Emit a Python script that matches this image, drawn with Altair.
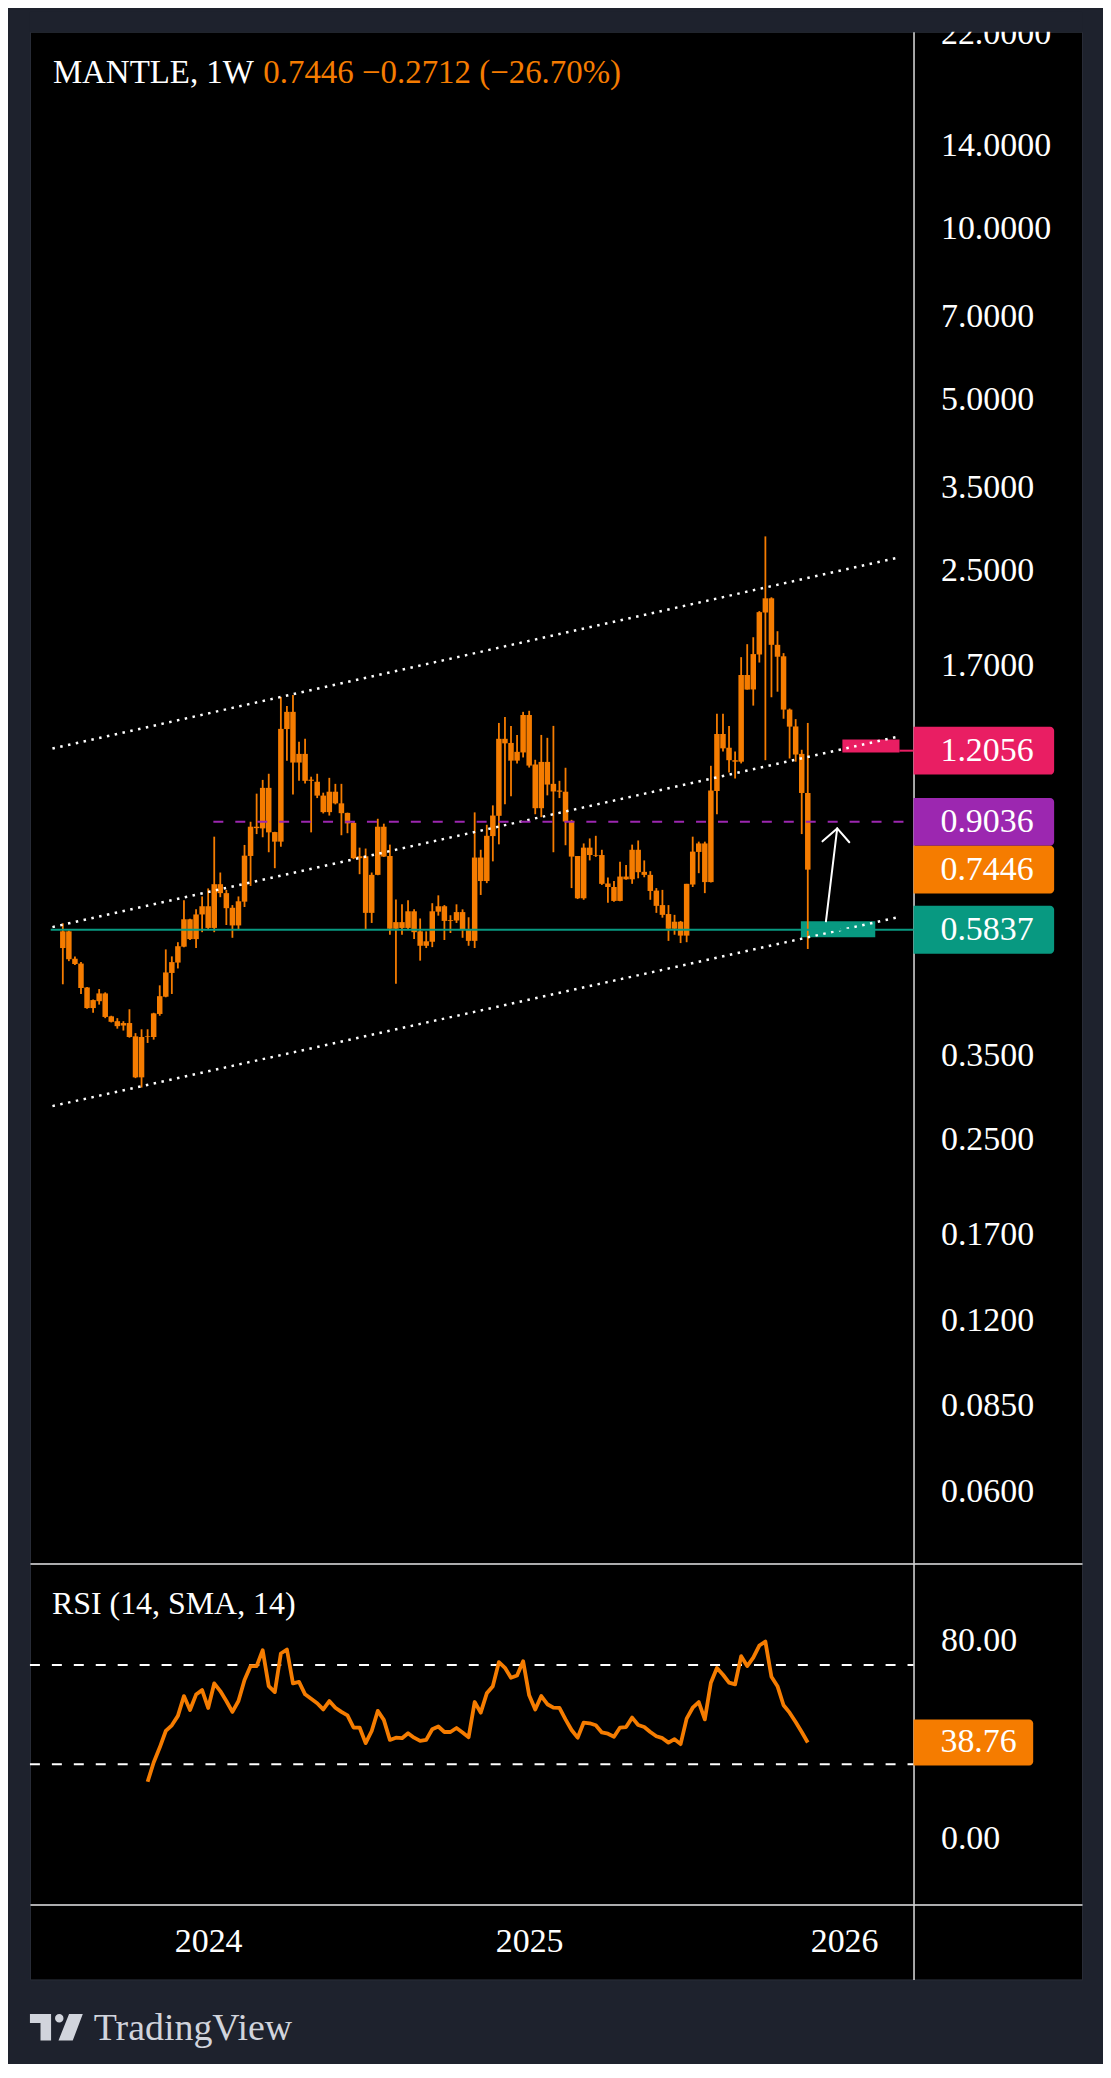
import altair as alt
import pandas as pd

# ------------------------------------------------------------------ data
first_week = "2023-07-17"   # weekly candles, MANTLE 1W

opens = [0.542, 0.580, 0.519, 0.509, 0.462, 0.425, 0.437, 0.451, 0.411, 0.403,
         0.396, 0.400, 0.379, 0.321, 0.378, 0.378, 0.415, 0.445, 0.490, 0.511,
         0.545, 0.609, 0.562, 0.621, 0.642, 0.588, 0.702, 0.677, 0.638, 0.594,
         0.654, 0.787, 0.886, 0.880, 1.037, 0.867, 0.834, 1.316, 1.411, 1.149,
         1.190, 1.067, 1.063, 1.005, 0.940, 1.021, 0.974, 0.937, 0.900, 0.780,
         0.786, 0.625, 0.729, 0.886, 0.787, 0.586, 0.602, 0.588, 0.629, 0.580,
         0.547, 0.556, 0.628, 0.642, 0.605, 0.606, 0.627, 0.584, 0.558, 0.782,
         0.711, 0.853, 0.926, 1.265, 1.244, 1.158, 1.197, 1.393, 1.140, 0.955,
         1.152, 1.054, 1.021, 1.021, 0.907, 0.787, 0.663, 0.814, 0.790, 0.790,
         0.704, 0.694, 0.656, 0.724, 0.716, 0.807, 0.738, 0.729, 0.684, 0.645,
         0.622, 0.586, 0.603, 0.570, 0.701, 0.800, 0.828, 0.708, 1.024, 1.290,
         1.220, 1.160, 1.153, 1.638, 1.545, 1.780, 2.110, 2.235, 1.851, 1.767,
         1.424, 1.330, 1.190, 1.0158]
highs = [0.599, 0.582, 0.524, 0.512, 0.463, 0.440, 0.459, 0.453, 0.412, 0.408,
         0.403, 0.423, 0.384, 0.390, 0.390, 0.417, 0.466, 0.539, 0.524, 0.555,
         0.658, 0.610, 0.634, 0.668, 0.690, 0.851, 0.736, 0.686, 0.645, 0.668,
         0.823, 0.904, 1.013, 1.071, 1.098, 0.868, 1.499, 1.445, 1.511, 1.250,
         1.265, 1.085, 1.098, 1.017, 1.080, 1.054, 1.054, 0.938, 0.904, 0.814,
         0.811, 0.736, 0.915, 0.897, 0.824, 0.660, 0.647, 0.658, 0.634, 0.611,
         0.580, 0.650, 0.671, 0.645, 0.619, 0.647, 0.634, 0.614, 0.939, 0.807,
         0.893, 0.966, 1.349, 1.382, 1.333, 1.285, 1.411, 1.417, 1.162, 1.285,
         1.270, 1.333, 1.067, 1.125, 0.911, 0.787, 0.828, 0.845, 0.854, 0.807,
         0.721, 0.711, 0.769, 0.759, 0.824, 0.838, 0.773, 0.740, 0.691, 0.686,
         0.645, 0.620, 0.605, 0.703, 0.851, 0.834, 0.834, 1.134, 1.400, 1.400,
         1.333, 1.202, 1.761, 1.856, 1.909, 2.122, 2.872, 2.244, 1.956, 1.790,
         1.430, 1.370, 1.210, 1.349]
lows = [0.468, 0.514, 0.506, 0.450, 0.424, 0.417, 0.431, 0.408, 0.401, 0.391,
        0.388, 0.377, 0.320, 0.308, 0.369, 0.374, 0.412, 0.444, 0.450, 0.499,
        0.544, 0.560, 0.542, 0.578, 0.583, 0.578, 0.666, 0.595, 0.565, 0.583,
        0.640, 0.697, 0.860, 0.849, 0.799, 0.749, 0.817, 1.157, 1.010, 1.067,
        1.056, 0.866, 0.995, 0.935, 0.927, 0.970, 0.856, 0.863, 0.777, 0.731,
        0.583, 0.600, 0.728, 0.784, 0.572, 0.469, 0.572, 0.583, 0.562, 0.515,
        0.542, 0.544, 0.618, 0.560, 0.576, 0.600, 0.565, 0.547, 0.542, 0.672,
        0.705, 0.770, 0.825, 0.970, 1.002, 1.145, 1.173, 1.126, 0.932, 0.921,
        1.006, 0.799, 0.995, 0.822, 0.691, 0.661, 0.659, 0.773, 0.784, 0.700,
        0.651, 0.654, 0.655, 0.715, 0.703, 0.719, 0.722, 0.659, 0.625, 0.613,
        0.558, 0.572, 0.553, 0.555, 0.694, 0.734, 0.677, 0.707, 0.932, 1.202,
        1.104, 1.077, 1.145, 1.544, 1.447, 1.723, 1.160, 1.497, 1.531, 1.372,
        1.168, 1.153, 0.860, 0.540]
closes = [0.580, 0.518, 0.508, 0.461, 0.425, 0.439, 0.451, 0.410, 0.402, 0.395,
          0.400, 0.378, 0.321, 0.378, 0.379, 0.416, 0.446, 0.491, 0.512, 0.546,
          0.609, 0.562, 0.621, 0.642, 0.588, 0.702, 0.677, 0.637, 0.594, 0.655,
          0.788, 0.886, 0.881, 1.037, 0.866, 0.834, 1.317, 1.411, 1.149, 1.190,
          1.067, 1.072, 1.005, 0.940, 1.021, 0.974, 0.936, 0.898, 0.780, 0.786,
          0.625, 0.729, 0.886, 0.785, 0.586, 0.602, 0.588, 0.629, 0.578, 0.547,
          0.557, 0.629, 0.642, 0.605, 0.607, 0.627, 0.583, 0.558, 0.782, 0.711,
          0.854, 0.927, 1.265, 1.242, 1.158, 1.200, 1.393, 1.135, 0.955, 1.152,
          1.051, 1.022, 1.026, 0.905, 0.785, 0.663, 0.814, 0.790, 0.788, 0.703,
          0.694, 0.656, 0.724, 0.716, 0.807, 0.737, 0.729, 0.683, 0.643, 0.620,
          0.586, 0.603, 0.570, 0.703, 0.801, 0.828, 0.708, 1.026, 1.290, 1.217,
          1.160, 1.153, 1.638, 1.544, 1.783, 2.113, 2.235, 1.851, 1.764, 1.424,
          1.329, 1.187, 1.0158, 0.7446]

# RSI(14) starts at the 15th weekly bar
rsi_values = [22.9, 30.7, 36.7, 43.4, 45.7, 49.5, 57.5, 51.9, 58.1, 59.9,
              52.7, 62.6, 59.5, 55.5, 51.1, 55.5, 64.0, 69.6, 69.6, 76.0,
              61.5, 59.1, 74.7, 76.3, 62.6, 63.2, 58.2, 56.4, 54.6, 52.1,
              55.5, 52.8, 51.1, 49.7, 44.8, 44.8, 38.5, 43.4, 51.5, 47.9,
              39.8, 40.7, 40.5, 42.5, 40.7, 39.4, 39.8, 44.1, 45.2, 43.0,
              43.0, 44.6, 42.8, 40.9, 55.1, 50.8, 58.6, 61.5, 71.2, 68.9,
              64.9, 65.8, 71.6, 57.8, 52.1, 57.5, 54.2, 52.8, 52.7, 48.1,
              43.8, 40.7, 46.8, 46.5, 45.7, 42.8, 42.3, 41.1, 44.8, 45.0,
              48.8, 45.8, 45.0, 43.0, 41.3, 40.5, 38.7, 40.1, 38.1, 48.4,
              52.8, 55.1, 48.1, 62.9, 68.8, 66.1, 62.9, 62.2, 73.6, 69.6,
              73.0, 77.9, 79.5, 65.3, 61.5, 53.8, 50.8, 47.0, 43.0, 38.76]
rsi_levels = [70, 30]

# visible price-scale labels (those under the coloured tags are hidden in the reference)
price_ticks = [0.06, 0.085, 0.12, 0.17, 0.25, 0.35, 1.7,
               2.5, 3.5, 5, 7, 10, 14, 22]
rsi_ticks = [0, 80]
year_tick_dates = [(2024, 1, 1), (2025, 1, 6), (2026, 1, 5)]

# channel (three parallel dotted trend lines)
channel_names = ["upper", "upper", "middle", "middle", "lower", "lower"]
channel_dates = ["2023-07-05", "2026-03-07"] * 3
channel_prices = [1.216, 2.633, 0.590, 1.275, 0.2857, 0.6135]

# horizontal drawings
support_date, support_price = "2023-07-03", 0.5837
mid_date, mid_price = "2024-01-07", 0.9036
target_line_date, target_price = "2026-03-10", 1.2056

# zones (position tool boxes)
zone_start = ["2026-01-03", "2025-11-16"]
zone_end = ["2026-03-10", "2026-02-10"]
zone_low = [1.197, 0.566]
zone_high = [1.261, 0.604]
zone_colors = ["#e91e63", "#089981"]

# arrow (shaft + two heads)
arrow_d1 = ["2025-12-15", "2025-12-28", "2025-12-28"]
arrow_p1 = [0.604, 0.880, 0.880]
arrow_d2 = ["2025-12-28", "2025-12-11", "2026-01-11"]
arrow_p2 = [0.880, 0.835, 0.832]

# price scale tags
tag_values = [1.2056, 0.9036, 0.7446, 0.5837]
tag_labels = ["1.2056", "0.9036", "0.7446", "0.5837"]
tag_colors = ["#e91e63", "#9c27b0", "#f57c00", "#089981"]
rsi_last = 38.76

# ------------------------------------------------------------------ style
NAVY = "#1e222d"
ORANGE = "#f57c00"
PINK = "#e91e63"
PURPLE = "#9c27b0"
TEAL = "#089981"
SEP = "#dedede"
LOGO = "#d1d4dc"
FONT = "Liberation Serif"

W = 1055
H_PRICE, H_RSI, H_TIME = 1536, 342, 75
AXIS_X = 886            # price-scale separator inside the plot
OFF = AXIS_X - W        # negative axis offset
TAG_H = 24


def dt(y, m, d):
    return alt.DateTime(year=y, month=m, date=d, utc=True)


xscale = alt.Scale(type="utc", domain=[dt(2023, 6, 9), dt(2026, 10, 7)], nice=False)
pscale = alt.Scale(type="log", domain=[0.04479, 22.18], nice=False)
rscale = alt.Scale(type="linear", domain=[-26.7, 111.0], nice=False, zero=False)


def right_axis(values, fmt, labels=True):
    kw = dict(orient="right", offset=OFF, grid=False, ticks=False, domain=True,
              domainColor=SEP, domainWidth=1.5, title=None, zindex=0)
    if labels:
        kw.update(values=values, format=fmt, labelColor="#ffffff", labelFont=FONT,
                  labelFontSize=34, labelPadding=27, labelAlign="left",
                  labelBaseline="middle", labelOverlap=False, labelFlush=False)
    else:
        kw.update(labels=False)
    return alt.Axis(**kw)


price_axis = right_axis(price_ticks, ".4f")
rsi_axis = right_axis(rsi_ticks, ".2f")


def PX(f):
    return alt.X(f"{f}:T", scale=xscale, axis=None, title=None)


def PY(f):
    return alt.Y(f"{f}:Q", scale=pscale, axis=price_axis, title=None)


# ------------------------------------------------------------------ frames
dates = pd.date_range(first_week, periods=len(opens), freq="7D").strftime("%Y-%m-%d")
candles = pd.DataFrame({"date": dates, "open": opens, "high": highs,
                        "low": lows, "close": closes})
rsi_df = pd.DataFrame({"date": dates[len(dates) - len(rsi_values):], "rsi": rsi_values})
channel_df = pd.DataFrame({"line": channel_names, "date": channel_dates, "price": channel_prices})
zones_df = pd.DataFrame({"d1": zone_start, "d2": zone_end, "lo": zone_low,
                         "hi": zone_high, "col": zone_colors})
arrow_df = pd.DataFrame({"d1": arrow_d1, "p1": arrow_p1, "d2": arrow_d2, "p2": arrow_p2})
tags_df = pd.DataFrame({"value": tag_values, "label": tag_labels, "col": tag_colors})
one = pd.DataFrame({"a": [0]})

# ------------------------------------------------------------------ price panel
zones = alt.Chart(zones_df).mark_rect().encode(
    x=PX("d1"), x2="d2", y=PY("lo"), y2="hi",
    color=alt.Color("col:N", scale=None, legend=None))

wicks = alt.Chart(candles).mark_rule(color=ORANGE, strokeWidth=1.8).encode(
    x=PX("date"), y=PY("low"), y2="high")
bodies = alt.Chart(candles).mark_rule(color=ORANGE, strokeWidth=5.5).encode(
    x=PX("date"), y=PY("open"), y2="close")

channel = alt.Chart(channel_df).mark_line(color="#ffffff", strokeWidth=2.5, strokeDash=[2.5, 5.5]).encode(
    x=PX("date"), y=PY("price"), detail="line:N")

support = alt.Chart(pd.DataFrame({"d": [support_date], "p": [support_price]})).mark_rule(
    color=TEAL, strokeWidth=2).encode(x=PX("d"), x2=alt.value(AXIS_X), y=PY("p"))
midline = alt.Chart(pd.DataFrame({"d": [mid_date], "p": [mid_price]})).mark_rule(
    color=PURPLE, strokeWidth=2, strokeDash=[10, 12]).encode(x=PX("d"), x2=alt.value(AXIS_X), y=PY("p"))
target_link = alt.Chart(pd.DataFrame({"d": [target_line_date], "p": [target_price]})).mark_rule(
    color=PINK, strokeWidth=2).encode(x=PX("d"), x2=alt.value(AXIS_X), y=PY("p"))

arrow = alt.Chart(arrow_df).mark_rule(color="#ffffff", strokeWidth=2, strokeCap="round").encode(
    x=PX("d1"), x2="d2", y=PY("p1"), y2="p2")

tag_rects = alt.Chart(tags_df).mark_rect(
    cornerRadiusTopRight=4, cornerRadiusBottomRight=4, yOffset=-TAG_H, y2Offset=TAG_H).encode(
    x=alt.value(AXIS_X), x2=alt.value(1027), y=PY("value"), y2="value",
    color=alt.Color("col:N", scale=None, legend=None))
tag_text = alt.Chart(tags_df).mark_text(
    align="left", baseline="middle", font=FONT, fontSize=34, color="#ffffff").encode(
    x=alt.value(AXIS_X + 27), y=PY("value"), text="label:N")

title_w = alt.Chart(pd.DataFrame({"t": ["MANTLE, 1W"]})).mark_text(
    align="left", baseline="alphabetic", font=FONT, fontSize=33, color="#ffffff").encode(
    x=alt.value(23), y=alt.value(51), text="t:N")
title_o = alt.Chart(pd.DataFrame({"t": ["0.7446  \u22120.2712 (\u221226.70%)"]})).mark_text(
    align="left", baseline="alphabetic", font=FONT, fontSize=33, color=ORANGE).encode(
    x=alt.value(234), y=alt.value(51), text="t:N")

cover = alt.Chart(one).mark_rect(color=NAVY).encode(
    x=alt.value(0), x2=alt.value(W), y=alt.value(-20), y2=alt.value(0))

price_panel = alt.layer(
    zones, wicks, bodies, channel, support, midline, target_link, arrow,
    tag_rects, tag_text, title_w, title_o, cover
).properties(width=W, height=H_PRICE)

# ------------------------------------------------------------------ RSI panel
sep_axis = alt.Axis(orient="top", labels=False, ticks=False, grid=False, domain=True,
                    domainColor=SEP, domainWidth=1.5, title=None, zindex=0)

rsi_lines = alt.Chart(pd.DataFrame({"lvl": rsi_levels})).mark_rule(
    color="#ffffff", strokeWidth=2, strokeDash=[10, 12]).encode(
    y=alt.Y("lvl:Q", scale=rscale, axis=rsi_axis, title=None),
    x=alt.value(0), x2=alt.value(AXIS_X))
rsi_line = alt.Chart(rsi_df).mark_line(color=ORANGE, strokeWidth=3.8, strokeJoin="round").encode(
    x=alt.X("date:T", scale=xscale, axis=sep_axis, title=None),
    y=alt.Y("rsi:Q", scale=rscale, axis=rsi_axis, title=None))
rsi_tag_df = pd.DataFrame({"v": [rsi_last], "label": [f"{rsi_last:.2f}"]})
rsi_tag = alt.Chart(rsi_tag_df).mark_rect(
    color=ORANGE, cornerRadiusTopRight=4, cornerRadiusBottomRight=4,
    yOffset=-23, y2Offset=23).encode(
    x=alt.value(AXIS_X), x2=alt.value(1006),
    y=alt.Y("v:Q", scale=rscale, axis=rsi_axis, title=None), y2="v")
rsi_tag_text = alt.Chart(rsi_tag_df).mark_text(
    align="left", baseline="middle", font=FONT, fontSize=34, color="#ffffff").encode(
    x=alt.value(AXIS_X + 27), y=alt.Y("v:Q", scale=rscale, axis=rsi_axis, title=None), text="label:N")
rsi_title = alt.Chart(pd.DataFrame({"t": ["RSI (14, SMA, 14)"]})).mark_text(
    align="left", baseline="alphabetic", font=FONT, fontSize=32, color="#ffffff").encode(
    x=alt.value(22), y=alt.value(51), text="t:N")

rsi_panel = alt.layer(rsi_lines, rsi_line, rsi_tag, rsi_tag_text, rsi_title).properties(
    width=W, height=H_RSI)

# ------------------------------------------------------------------ time axis panel
time_axis = alt.Axis(
    orient="top", values=[dt(*d) for d in year_tick_dates],
    labelExpr="utcFormat(datum.value, '%Y')", ticks=False, grid=False, domain=True,
    domainColor=SEP, domainWidth=1.5, labelPadding=-37, labelBaseline="middle",
    labelFont=FONT, labelFontSize=34, labelColor="#ffffff", labelFlush=False,
    labelOverlap=False, title=None, zindex=0)
years_df = pd.DataFrame({"date": ["%04d-%02d-%02d" % d for d in year_tick_dates], "v": [0.5] * 3})
time_base = alt.Chart(years_df).mark_point(opacity=0).encode(
    x=alt.X("date:T", scale=xscale, axis=time_axis, title=None),
    y=alt.Y("v:Q", scale=alt.Scale(domain=[0, 1]), axis=right_axis(None, None, labels=False), title=None))

logo_path = ("M-1,-0.5H-0.2V0.5H-0.6V-0.16H-1Z"
             "M-0.05,-0.34A0.16,0.16,0,1,0,0.27,-0.34A0.16,0.16,0,1,0,-0.05,-0.34Z"
             "M0.48,-0.5H1L0.62,0.5H0.08Z")
logo_icon = alt.Chart(one).mark_point(
    shape=logo_path, size=2809, filled=True, color=LOGO, opacity=1, strokeWidth=0).encode(
    x=alt.value(26.5), y=alt.value(123))
logo_text = alt.Chart(pd.DataFrame({"t": ["TradingView"]})).mark_text(
    align="left", baseline="alphabetic", font=FONT, fontSize=38, color=LOGO).encode(
    x=alt.value(64), y=alt.value(136), text="t:N")

time_panel = alt.layer(time_base, logo_icon, logo_text).properties(width=W, height=H_TIME)

# ------------------------------------------------------------------ compose
chart = alt.vconcat(price_panel, rsi_panel, time_panel, spacing=0, bounds="flush").properties(
    padding={"left": 20, "top": 0, "right": 20, "bottom": 12},
    background=NAVY,
).configure_view(fill="#000000", stroke="#2a2e39", strokeWidth=1)

chart.save("out.html", embed_options={"renderer": "svg", "actions": False})
